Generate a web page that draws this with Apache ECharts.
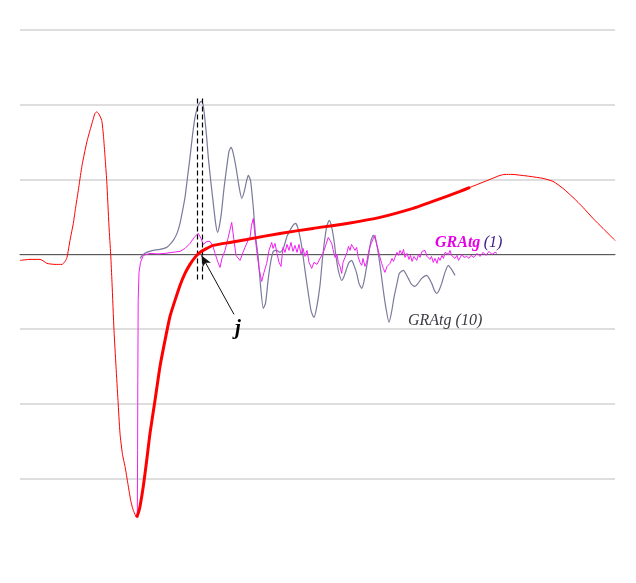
<!DOCTYPE html>
<html><head><meta charset="utf-8">
<script src="https://cdn.jsdelivr.net/npm/echarts@6/dist/echarts.min.js"></script>
<style>html,body{margin:0;padding:0;background:#fff}#c{width:636px;height:583px}</style>
</head><body><div id="c"></div>
<script>
// x: sample position, y: amplitude (grid step 74.8)
const redCurve = [
[0,-6],[10,-5],[20,-5],[24,-7],[27,-9],[35,-10],[42,-10],[45,-7],[47,-3],[50,14],[53.3,31],[55.5,46],[58.3,64],[61.7,87],[65,104],[67.5,115],[70,124],[72.5,133],[75,141],[76.7,142.5],[78.5,141],[81.7,134],[83.5,118],[85,98],[86.7,74],[89,28],[90.7,0],[92,-28],[94,-76],[96,-112],[98,-146],[100,-179],[102.5,-200],[105,-212],[108,-230],[110.7,-246],[113,-255],[116.7,-263],
[118.5,-258],[120,-252],[123.3,-232],[126.7,-206],[130,-179],[135,-146],[140,-112],[145,-86],[150,-62],[155,-46],[160,-31],[165,-19],[170,-10],[175,-3],[180,2],[185,5],[193,9],[210,12],[226.7,15],[260,21],[293,26],[327,31],[360,37],[393,46],[410,52],[426.7,58],[440,63],[450,67],
[460,71],[470,75],[480,79],[485,80],[492,80],[502,79],[510,78],[523,76],[533,73],[543,66],[553,57],[563,47],[573,36],[583,26],[595,14]
];
const thickFrom = 116.7, thickTo = 450;

const gratg1 = [
[117.3,-263],[117.6,-196],[117.8,-126],[118.2,-46],[119,-18],[120.5,-8],[123.3,-1],[130,1],[138,0.5],[145,1],[152,2],[160,3],[165,6],[170,11],[175,18],[178.3,21],[181,16],[183.3,10],[187,13],[190,13],[193,8],[195,1],[198,-8],[200,-13],[202,-4],[205,4],[208,16],[211.7,32],[214,14],[216,-1],[220,-6],[223,2],[225,7],[228,14],[230,17],[231.5,29],[233.3,36],[235,19],[236.7,4],[239,-14],[241.7,-27],[244,-18],[246.7,-9],[249,4],[251.7,12],[253,6],[255,11],[257,1],[259,-8],[261,-12],[263,7],[265,2],[267,10],[269,4],[271,12],[273,3],[275,9],[277,2],[279,10],[281,0],[283,6],[285,-2],[287,4],[289,-8],[291.7,-14],[294,-8],[297,-10],[300,-4],[303,1],[306,10],[308.3,17],[310,14],[311.7,11],[313,5],[315,-3],[317,0],[318.3,-8],[320,-12],[321.7,-19],[323,-8],[325,-3],[327,2],[328.5,8],[330,4],[331.5,10],[333.3,11],[335,4],[336.7,7],[338,-2],[340,-8],[341.7,-11],[343,-4],[345,-12],[346.7,-8],[348.5,2],[350,8],[351.7,12],[353.3,16],[355,19],[356.5,11],[358.3,4],[360,-3],[361.7,-9],[363.3,-14],[365,-18],[367,-12],[370,-9],[372,-4],[373.5,-7],[375,-3],[377,2],[378.5,-1],[380,4],[382,0],[383.5,5],[385,-3],[387,1],[389,-5],[390.5,-1],[392,-7],[394,-2],[396.7,-6],[398.5,0],[400,-3],[402,3],[403.3,2],[405,4],[407,-2],[408.3,0],[410,-5],[411.5,-2],[413.3,-8],[415,-4],[417,-9],[418.5,-3],[420,-6],[422,-1],[423.5,-4],[425,2],[426.7,4],[428.5,0],[430,4],[431.5,-1],[433.3,-1],[435,-4],[437,-1],[438.5,-6],[440,-4],[442,0],[444,-3],[446.7,-2],[449,-4],[451,-1],[454,-3],[457,1],[460,-2],[463,2],[466,-1],[469,3],[472,0],[475,2],[477,1]
];

const gratg10 = [
[120,-4],[123.3,0],[128,2.5],[133.3,4],[140,5],[146.7,7],[150,10],[153.3,14],[157,21],[160,31],[163,46],[165,57],[167.5,77],[170,97],[172.5,119],[175,137],[177.5,147],[180,152],[181.7,153],[183,150],[184.5,139],[186.5,119],[188.3,97],[191,71],[193.3,51],[195.5,32],[197.5,22],[199.5,29],[201.7,44],[204,66],[206.7,87],[209,103],[211,107],[213,102],[216,87],[219,68],[221.7,56],[224,62],[226.7,74],[228.3,79],[230.5,74],[233.3,47],[235.5,19],[238.3,-4],[240.5,-31],[243.3,-54],[245.5,-49],[248.3,-24],[251,-6],[253.3,3],[256.7,4],[260,2],[263.3,6],[267,18],[270,24],[273,29],[275.5,31],[278,26],[281.7,8],[285,-16],[288.3,-39],[291,-56],[293.8,-63],[296.5,-54],[300,-31],[302.5,-4],[305,17],[307,29],[309.3,34],[311.5,28],[314,14],[316,-2],[318.3,-16],[321.7,-26],[324,-22],[326.7,-14],[329,-8],[331.7,-6],[334,-11],[336.7,-19],[339,-29],[341.7,-34],[344,-27],[346.7,-12],[349,2],[351,14],[353.3,19],[355.8,14],[358.3,1],[361,-18],[363.3,-36],[366,-54],[369,-68],[371.5,-58],[374,-43],[377,-29],[379.3,-19],[383.3,-16],[388.3,-24],[391.5,-30],[395,-32],[398,-29],[401.7,-24],[406.7,-21],[411.7,-29],[414,-35],[416.7,-39],[419,-36],[421.7,-29],[425,-18],[428.3,-11],[431.5,-15],[435,-21]
];

const markerX = [177.5, 182];
const markerTop = 156, markerBottom = -26;
const arrowFrom = [214, -60], arrowTo = [181.5, -1];
const labelPos = { g1: [415, 12], g10: [388, -66], j: [218, -74] };

const chart = echarts.init(document.getElementById('c'), null, { renderer: 'canvas' });
const thick = redCurve.filter(p => p[0] >= thickFrom && p[0] <= thickTo);

chart.setOption({
  animation: false,
  backgroundColor: '#ffffff',
  grid: { left: 20, right: 21, top: 30, bottom: 104.2, containLabel: false },
  xAxis: {
    type: 'value', min: 0, max: 595,
    axisLine: { show: true, onZero: true, lineStyle: { color: '#5a5a5a', width: 1.2 } },
    axisTick: { show: false }, axisLabel: { show: false }, splitLine: { show: false }
  },
  yAxis: {
    type: 'value', min: -224.4, max: 224.4, interval: 74.8,
    axisLine: { show: false }, axisTick: { show: false }, axisLabel: { show: false },
    splitLine: { show: true, lineStyle: { color: '#dedede', width: 2 } }
  },
  series: [
    { name: 'GRAtg (10)', type: 'line', data: gratg10, showSymbol: false, smooth: 0.2, clip: false,
      lineStyle: { color: '#7a7a9c', width: 1.2 }, z: 2 },
    { name: 'GRAtg (1)', type: 'line', data: gratg1, showSymbol: false, clip: false,
      lineStyle: { color: '#f020f0', width: 1 }, z: 3 },
    { name: 'curve', type: 'line', data: redCurve, showSymbol: false, smooth: 0.2, clip: false,
      lineStyle: { color: '#ff0000', width: 1 }, z: 4 },
    { name: 'curve-bold', type: 'line', data: thick, showSymbol: false, smooth: 0.2, clip: false,
      lineStyle: { color: '#ff0000', width: 3 }, z: 5,
      markLine: {
        silent: true, animation: false, symbol: ['none', 'none'], label: { show: false },
        lineStyle: { color: '#000', type: [5, 3], width: 1.2 },
        data: [
          [{ coord: [markerX[0], markerTop] }, { coord: [markerX[0], markerBottom] }],
          [{ coord: [markerX[1], markerTop] }, { coord: [markerX[1], markerBottom] }],
          [{ coord: arrowFrom, symbol: 'none', lineStyle: { type: 'solid', width: 1, color: '#111' } },
           { coord: arrowTo, symbol: 'arrow', symbolSize: [7, 11] }]
        ]
      } }
  ]
});

const p1 = chart.convertToPixel({ gridIndex: 0 }, labelPos.g1);
const p10 = chart.convertToPixel({ gridIndex: 0 }, labelPos.g10);
const pj = chart.convertToPixel({ gridIndex: 0 }, labelPos.j);
const serif = '"Liberation Serif", "DejaVu Serif", serif';
chart.setOption({
  graphic: [
    { type: 'text', x: p1[0], y: p1[1], z: 100, style: {
        text: '{a|GRAtg} {b|(1)}', textVerticalAlign: 'middle', textAlign: 'left',
        rich: {
          a: { fontFamily: serif, fontStyle: 'italic', fontWeight: 'bold', fontSize: 16, fill: '#e600e6',
               textShadowColor: '#2b1680', textShadowOffsetX: 1, textShadowOffsetY: 0.5, textShadowBlur: 0 },
          b: { fontFamily: serif, fontStyle: 'italic', fontSize: 16, fill: '#3a1a8a',
               textShadowColor: '#e600e6', textShadowOffsetX: -0.6, textShadowOffsetY: 0, textShadowBlur: 0 }
        } } },
    { type: 'text', x: p10[0], y: p10[1], z: 100, style: {
        text: 'GRAtg (10)', textVerticalAlign: 'middle', textAlign: 'left',
        fontFamily: serif, fontStyle: 'italic', fontSize: 16, fill: '#3a3a44',
        textShadowColor: '#8a8ab0', textShadowOffsetX: 0.8, textShadowOffsetY: 0.5, textShadowBlur: 0 } },
    { type: 'text', x: pj[0], y: pj[1], z: 100, style: {
        text: 'j', textVerticalAlign: 'middle', textAlign: 'center',
        fontFamily: serif, fontStyle: 'italic', fontWeight: 'bold', fontSize: 21, fill: '#000' } }
  ]
});
</script>
</body></html>
